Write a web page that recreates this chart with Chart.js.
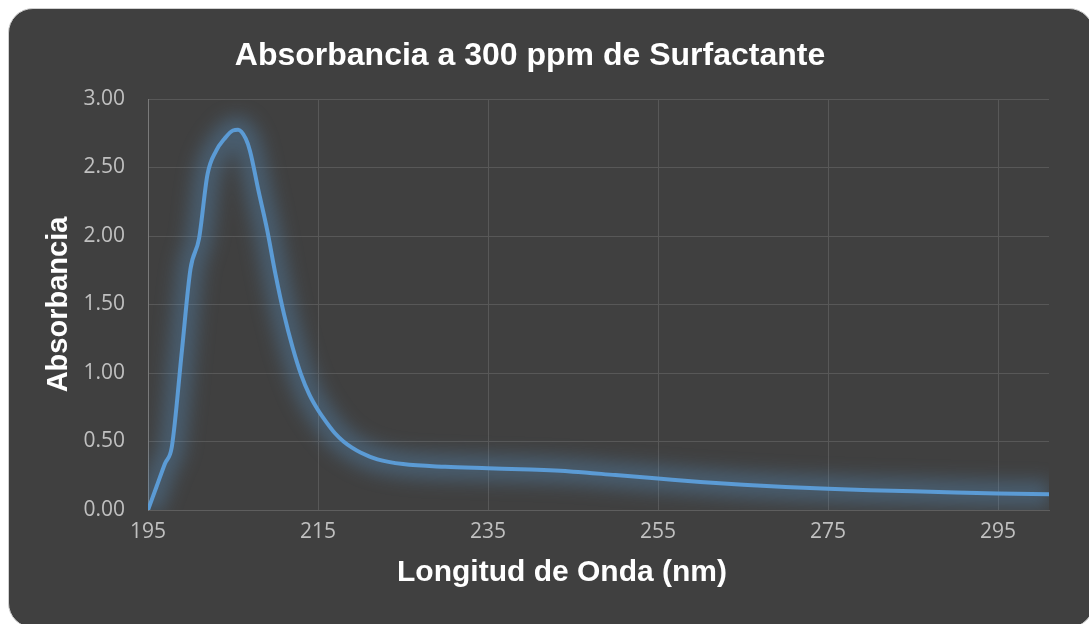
<!DOCTYPE html>
<html>
<head>
<meta charset="utf-8">
<script src="https://cdn.jsdelivr.net/npm/chart.js@4/dist/chart.umd.min.js"></script>
<style>
  html, body { margin: 0; padding: 0; background: #ffffff; overflow: hidden; }
  #wrap { position: relative; width: 1089px; height: 624px; }
  #card {
    position: absolute; left: 8px; top: 8px; width: 1084px; height: 618px;
    background: #404040; border: 1px solid #d0d0d0; border-radius: 25px;
  }
  #chart { position: absolute; left: 0; top: 0; }
</style>
</head>
<body>
<div id="wrap">
  <div id="card"></div>
  <canvas id="chart" width="1089" height="624"></canvas>
</div>
<script>
// wavelength (nm) and absorbance
const wavelength = [195, 196, 197, 197.8, 199, 200, 201, 202, 203, 204, 205, 205.6, 206.5, 207, 208, 209,
  210, 211, 212, 213, 214, 215, 216, 217, 218, 219, 220, 222, 225, 230, 235, 240, 245,
  250, 255, 260, 265, 270, 275, 280, 285, 290, 295, 301];
const absorbance = [0.00, 0.17, 0.34, 0.46, 1.17, 1.76, 1.98, 2.45, 2.62, 2.71, 2.77, 2.775, 2.71, 2.62, 2.33, 2.05,
  1.72, 1.43, 1.19, 0.99, 0.84, 0.73, 0.64, 0.56, 0.50, 0.455, 0.42, 0.37, 0.335, 0.315, 0.305, 0.295, 0.28,
  0.255, 0.23, 0.205, 0.185, 0.168, 0.155, 0.145, 0.136, 0.128, 0.121, 0.115];
const xTicks = [195, 215, 235, 255, 275, 295];

const points = wavelength.map((w, i) => ({ x: w, y: absorbance[i] }));

/* soft glow: the wide dataset is blurred */
const glow = {
  id: "glow",
  beforeDatasetDraw(chart, args) {
    const ctx = chart.ctx;
    ctx.save();
    if (args.index === 0) ctx.filter = "blur(9px)";
  },
  afterDatasetDraw(chart) {
    chart.ctx.restore();
  }
};

/* x axis title, placed like the original (not centred on the plot) */
const xTitle = {
  id: "xTitle",
  afterDraw(chart) {
    const ctx = chart.ctx;
    ctx.save();
    ctx.font = "bold 30px 'Liberation Sans', Arial, sans-serif";
    ctx.fillStyle = "#ffffff";
    ctx.textAlign = "center";
    ctx.textBaseline = "middle";
    ctx.fillText("Longitud de Onda (nm)", 562, 573);
    ctx.restore();
  }
};

new Chart(document.getElementById("chart"), {
  type: "line",
  data: {
    datasets: [{
      data: points,
      borderColor: "rgba(91,155,213,0.32)",
      borderWidth: 26,
      pointRadius: 0,
      fill: false,
      cubicInterpolationMode: "monotone",
      order: 2
    }, {
      data: points,
      borderColor: "#5b9bd5",
      borderWidth: 4,
      pointRadius: 0,
      fill: false,
      cubicInterpolationMode: "monotone",
      order: 1
    }]
  },
  options: {
    responsive: false,
    animation: false,
    layout: { padding: { left: 11, right: 40, top: 37, bottom: 35 } },
    plugins: {
      legend: { display: false },
      tooltip: { enabled: false },
      title: {
        display: true,
        text: "Absorbancia a 300 ppm de Surfactante",
        color: "#ffffff",
        font: { family: "'Liberation Sans', Arial, sans-serif", size: 32, weight: "bold", lineHeight: 1.2 },
        padding: { top: 0, bottom: 23.6 }
      }
    },
    scales: {
      x: {
        type: "linear",
        min: 195,
        max: 301,
        afterBuildTicks: s => { s.ticks = xTicks.map(v => ({ value: v })); },
        afterFit: s => { s.height = 79; },
        grid: { color: "#585858", lineWidth: 1, drawTicks: false },
        border: { color: "#5e5e5e" },
        ticks: {
          color: "#c0c0c0",
          padding: 9,
          maxRotation: 0,
          font: { family: "'Open Sans', sans-serif", size: 21 }
        }
      },
      y: {
        min: 0,
        max: 3,
        afterFit: s => { s.width = 137; },
        grid: { color: "#585858", lineWidth: 1, drawTicks: false },
        border: { color: "#7a7a7a" },
        ticks: {
          stepSize: 0.5,
          color: "#c0c0c0",
          padding: 23,
          font: { family: "'Open Sans', sans-serif", size: 21 },
          callback: v => v.toFixed(2)
        },
        title: {
          display: true,
          text: "Absorbancia",
          color: "#ffffff",
          font: { family: "'Liberation Sans', Arial, sans-serif", size: 29, weight: "bold", lineHeight: 1.2 },
          padding: { top: 31, bottom: 0 }
        }
      }
    }
  },
  plugins: [glow, xTitle]
});
</script>
</body>
</html>
